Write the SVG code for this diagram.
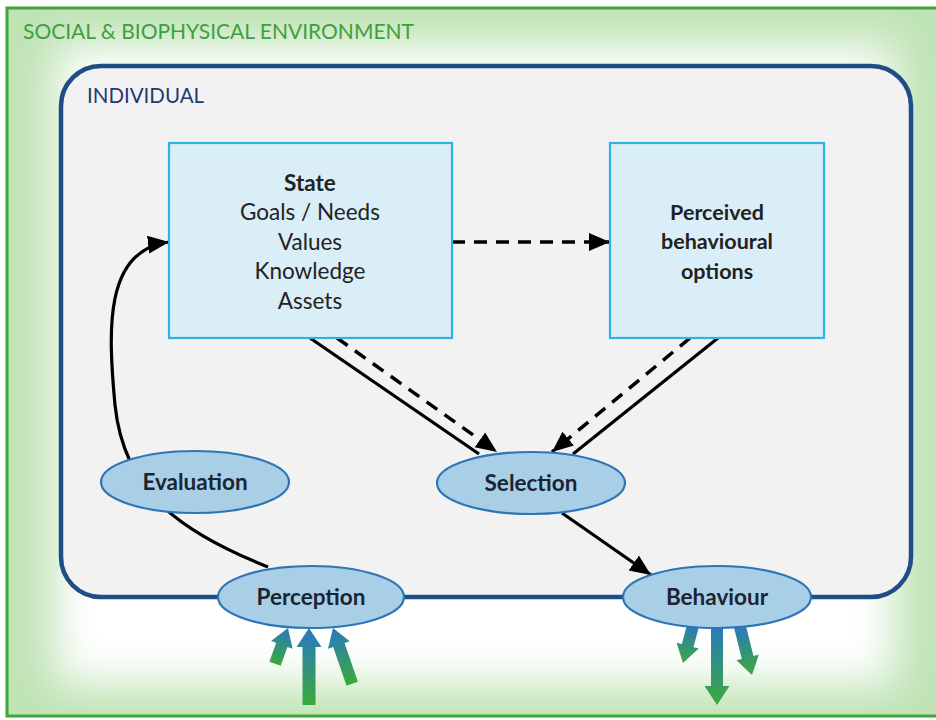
<svg xmlns="http://www.w3.org/2000/svg" width="936" height="720" viewBox="0 0 936 720">
<defs>
<style>
.lbl{font-family:Lato,"Open Sans","Liberation Sans",sans-serif;}
.box{fill:#daeef7;stroke:#2db4e6;stroke-width:2.2;}
.ell{fill:#a9cfe6;stroke:#2e75b6;stroke-width:2.2;}
.etxt{font-family:Lato,"Open Sans","Liberation Sans",sans-serif;font-weight:bold;font-size:22.5px;fill:#1b2433;text-anchor:middle;}
.btxt{font-family:Lato,"Open Sans","Liberation Sans",sans-serif;font-size:22.5px;fill:#222;text-anchor:middle;}
.ptxt{font-family:Lato,"Open Sans","Liberation Sans",sans-serif;font-size:21.5px;font-weight:bold;fill:#222;text-anchor:middle;}
.solid{fill:none;stroke:#000;stroke-width:3.2;}
.dash{fill:none;stroke:#000;stroke-width:3.5;stroke-dasharray:13 9;}
.fat{fill:url(#bg);}
</style>
<marker id="ah" markerUnits="userSpaceOnUse" markerWidth="22" markerHeight="20" viewBox="0 0 22 20" refX="21" refY="10" orient="auto">
<path d="M0,1 L21,10 L0,19 Z" fill="#000"/>
</marker>
<linearGradient id="bg" x1="0" y1="0" x2="0" y2="1">
<stop offset="0" stop-color="#2a78c2"/>
<stop offset="1" stop-color="#3aaa3c"/>
</linearGradient>
<filter id="blur" x="-20%" y="-20%" width="140%" height="140%">
<feGaussianBlur stdDeviation="22"/>
</filter>
<clipPath id="outerclip"><rect x="7" y="8" width="940" height="708"/></clipPath>
</defs>
<rect x="0" y="0" width="936" height="720" fill="#ffffff"/>
<g id="environment">
<g clip-path="url(#outerclip)">
<rect x="7" y="8" width="940" height="708" fill="#bfe3b5"/>
<rect x="55" y="45" width="840" height="640" fill="#ffffff" filter="url(#blur)"/>
</g>
<rect x="7" y="8" width="940" height="708" fill="none" stroke="#3ea63a" stroke-width="3"/>
<text class="lbl" x="23" y="39" font-size="21" fill="#3f9f3f">SOCIAL &amp; BIOPHYSICAL ENVIRONMENT</text>
</g>
<g id="individual">
<rect x="61" y="66" width="850" height="531" rx="40" ry="40" fill="#f2f2f2" stroke="#1f4e86" stroke-width="4.5"/>
<text class="lbl" x="87" y="103" font-size="20.5" fill="#1f3b6f">INDIVIDUAL</text>
</g>
<g id="flows">
<polygon class="fat" transform="translate(309,628)" points="0,0 12.5,19 6.5,19 6.5,77 -6.5,77 -6.5,19 -12.5,19"/>
<polygon class="fat" transform="translate(288,628) rotate(20)" points="0,0 11.5,18 6,18 6,38 -6,38 -6,18 -11.5,18"/>
<polygon class="fat" transform="translate(333,628) rotate(-19)" points="0,0 11.5,18 6,18 6,59 -6,59 -6,18 -11.5,18"/>
<polygon class="fat" transform="translate(717,705)" points="0,0 12.5,-19 6,-19 6,-82 -6,-82 -6,-19 -12.5,-19"/>
<polygon class="fat" transform="translate(683,663) rotate(15)" points="0,0 11.5,-18 6,-18 6,-40 -6,-40 -6,-18 -11.5,-18"/>
<polygon class="fat" transform="translate(752,675) rotate(-14)" points="0,0 11.5,-18 6,-18 6,-52 -6,-52 -6,-18 -11.5,-18"/>
</g>
<g id="connectors">
<path class="solid" d="M268,567 C180,532 124,492 115,405 C108,330 104,250 169,242" marker-end="url(#ah)"/>
<path class="dash" d="M452,242 L610,242" marker-end="url(#ah)"/>
<path class="solid" d="M310,338 L479,454"/>
<path class="dash" d="M337,338 L497,452" marker-end="url(#ah)"/>
<path class="dash" d="M690,338 L552,452" marker-end="url(#ah)"/>
<path class="solid" d="M718,338 L573,454"/>
<path class="solid" d="M562,513 L651,575" marker-end="url(#ah)"/>
</g>
<g id="state">
<rect class="box" x="169" y="143" width="283" height="195"/>
<text class="btxt" x="310" y="191" font-weight="bold">State</text>
<text class="btxt" x="310" y="220">Goals / Needs</text>
<text class="btxt" x="310" y="250">Values</text>
<text class="btxt" x="310" y="279">Knowledge</text>
<text class="btxt" x="310" y="309">Assets</text>
</g>
<g id="perceived-options">
<rect class="box" x="610" y="143" width="214" height="195"/>
<text class="ptxt" x="717" y="220">Perceived</text>
<text class="ptxt" x="717" y="249">behavioural</text>
<text class="ptxt" x="717" y="279">options</text>
</g>
<g id="evaluation">
<ellipse class="ell" cx="195" cy="482" rx="94" ry="31"/>
<text class="etxt" x="195" y="490">Evaluation</text>
</g>
<g id="selection">
<ellipse class="ell" cx="531" cy="483" rx="94" ry="31"/>
<text class="etxt" x="531" y="491">Selection</text>
</g>
<g id="perception">
<ellipse class="ell" cx="311" cy="597" rx="93" ry="31"/>
<text class="etxt" x="311" y="605">Perception</text>
</g>
<g id="behaviour">
<ellipse class="ell" cx="717" cy="597" rx="94" ry="31"/>
<text class="etxt" x="717" y="605">Behaviour</text>
</g>
</svg>
